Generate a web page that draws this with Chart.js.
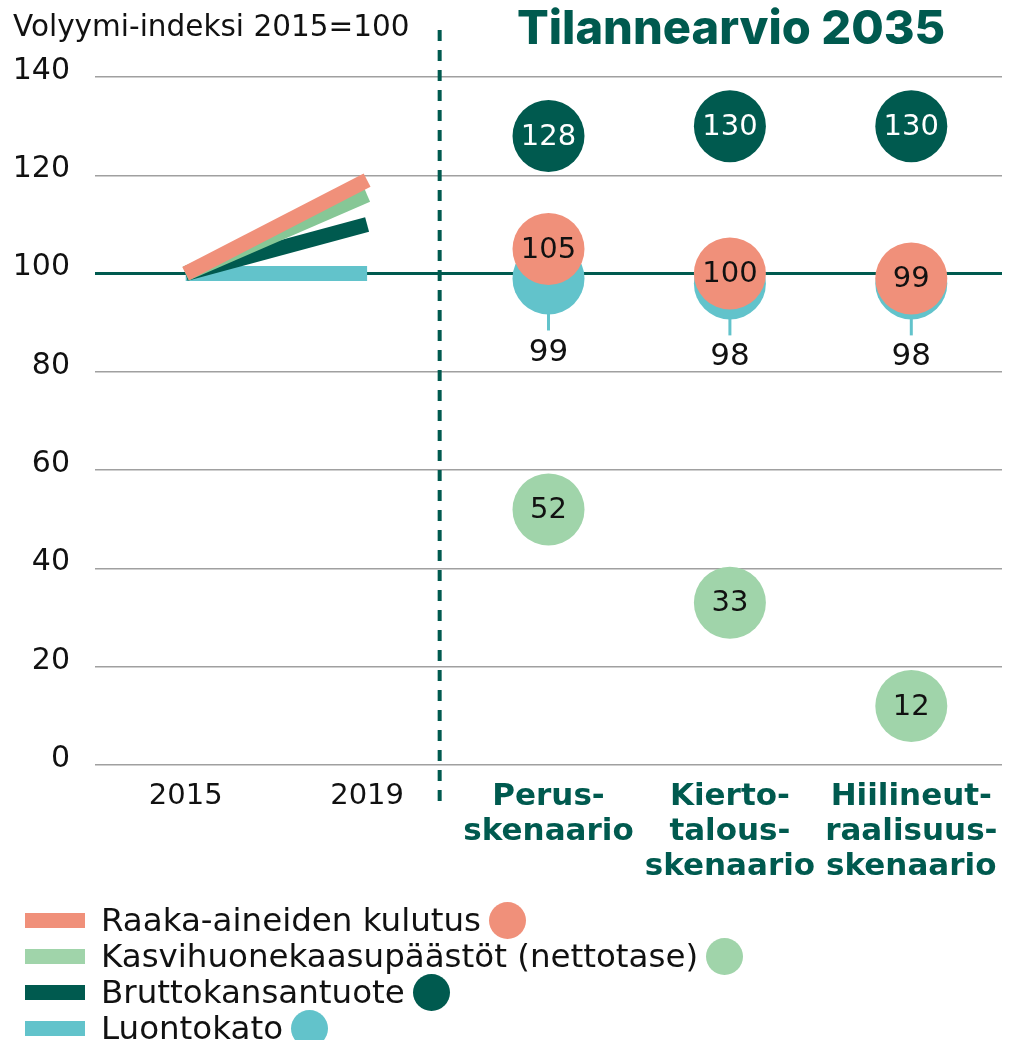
<!DOCTYPE html>
<html><head><meta charset="utf-8">
<script src="https://cdn.jsdelivr.net/npm/chart.js@4"></script>
<style>
html,body{margin:0;padding:0;background:#fff;}
#wrap{position:relative;width:1027px;height:1040px;font-family:"DejaVu Sans",sans-serif;overflow:hidden;}
canvas{position:absolute;left:0;top:0;}
.ylab{position:absolute;left:13px;top:12px;font-size:29.5px;line-height:29px;color:#111;white-space:nowrap;}
.title{position:absolute;left:517px;top:3px;font-family:Inter,sans-serif;font-size:47px;line-height:47px;font-weight:800;color:#005a4f;white-space:nowrap;}
.leg{position:absolute;left:25px;display:flex;align-items:center;font-size:32.5px;line-height:36px;color:#111;white-space:nowrap;height:36px;}
.leg .sw{width:60px;height:15px;margin-right:16px;flex:none;}
.leg .dot{width:37px;height:37px;border-radius:50%;margin-left:8px;flex:none;}
</style></head>
<body><div id="wrap">
<canvas id="c" width="1027" height="1040"></canvas>
<div class="ylab">Volyymi-indeksi 2015=100</div>
<div class="title">Tilannearvio 2035</div>
<div id="legend"></div>
</div>
<script>
const categories = ['2015', '2019', ['Perus-', 'skenaario'], ['Kierto-', 'talous-', 'skenaario'], ['Hiilineut-', 'raalisuus-', 'skenaario']];
const seriesNames = ['Raaka-aineiden kulutus', 'Kasvihuonekaasupäästöt (nettotase)', 'Bruttokansantuote', 'Luontokato'];
const raakaTrend = [100, 119];
const kasviTrend = [100, 116];
const bktTrend = [100, 110];
const luontoTrend = [100, 100];
const raaka2035 = [105, 100, 99];
const kasvi2035 = [52, 33, 12];
const bkt2035 = [128, 130, 130];
const luonto2035 = [99, 98, 98];
const yTicks = [0, 20, 40, 60, 80, 100, 120, 140];

const C_RAAKA = '#f0907a', C_KASVI = '#a0d4aa', C_KASVI_LINE = '#86c796', C_BKT = '#005a4f', C_LUONTO = '#62c3cb';
const FONT = '"DejaVu Sans", sans-serif';

const trend = a => [...a, null, null, null];
const future = a => [null, null, ...a];

function lineDs(label, data, color) {
  return {type: 'line', label, data: trend(data), borderColor: color, backgroundColor: color, borderWidth: 15,
    borderCapStyle: 'butt', pointRadius: 0, fill: false, spanGaps: false, tension: 0};
}
function dotDs(label, data, color, txt) {
  return {type: 'line', label, data: future(data), showLine: false, pointRadius: 36, pointHoverRadius: 36,
    pointBackgroundColor: color, pointBorderWidth: 0, borderColor: color, backgroundColor: color, txt, clip: false};
}

const datasets = [
  dotDs(seriesNames[0], raaka2035, C_RAAKA, '#111'),
  dotDs(seriesNames[3], luonto2035, C_LUONTO, null),
  dotDs(seriesNames[2], bkt2035, C_BKT, '#fff'),
  dotDs(seriesNames[1], kasvi2035, C_KASVI, '#111'),
  lineDs(seriesNames[0], raakaTrend, C_RAAKA),
  lineDs(seriesNames[1], kasviTrend, C_KASVI_LINE),
  lineDs(seriesNames[2], bktTrend, C_BKT),
  lineDs(seriesNames[3], luontoTrend, C_LUONTO)
];

const extras = {
  id: 'extras',
  beforeDatasetsDraw(chart) {
    const ctx = chart.ctx, x = chart.scales.x.getPixelForValue(1.4);
    ctx.save();
    ctx.strokeStyle = C_BKT; ctx.lineWidth = 4; ctx.setLineDash([11, 9]);
    ctx.beginPath(); ctx.moveTo(x, 30); ctx.lineTo(x, 802); ctx.stroke();
    ctx.restore();
  },
  afterDatasetsDraw(chart) {
    const ctx = chart.ctx;
    ctx.save();
    ctx.textAlign = 'center'; ctx.textBaseline = 'middle';
    chart.data.datasets.forEach((ds, i) => {
      if (ds.showLine !== false) return;
      const meta = chart.getDatasetMeta(i);
      meta.data.forEach((pt, j) => {
        const v = ds.data[j];
        if (v === null || v === undefined) return;
        if (ds.txt) {
          ctx.font = '29px ' + FONT;
          ctx.fillStyle = ds.txt; ctx.fillText(String(v), pt.x, pt.y + 1);
        } else {
          const r = ds.pointRadius;
          ctx.strokeStyle = C_LUONTO; ctx.lineWidth = 3; ctx.setLineDash([]);
          ctx.beginPath(); ctx.moveTo(pt.x, pt.y + r - 2); ctx.lineTo(pt.x, pt.y + r + 16); ctx.stroke();
          ctx.font = '31px ' + FONT;
          ctx.fillStyle = '#111'; ctx.fillText(String(v), pt.x, pt.y + r + 38);
        }
      });
    });
    ctx.restore();
  }
};

new Chart(document.getElementById('c'), {
  data: {labels: categories, datasets},
  plugins: [extras],
  options: {
    responsive: false, animation: false, devicePixelRatio: 1,
    layout: {autoPadding: false, padding: {top: 77, right: 25, left: 0, bottom: 0}},
    plugins: {legend: {display: false}, tooltip: {enabled: false}},
    elements: {point: {hitRadius: 0}},
    scales: {
      x: {
        type: 'category', offset: true,
        grid: {display: false, drawTicks: false}, border: {display: false},
        afterFit(s) { s.height = 275; s.paddingLeft = 0; s.paddingRight = 0; },
        ticks: {
          autoSkip: false, maxRotation: 0, padding: 14,
          color: c => c.index < 2 ? '#111' : '#005a4f',
          font: c => c.index < 2 ? {family: FONT, size: 29, weight: '400', lineHeight: '35px'} : {family: FONT, size: 31, weight: '700', lineHeight: '35px'}
        }
      },
      y: {
        min: 0, max: 140,
        afterFit(s) { s.width = 95; },
        afterBuildTicks(s) { s.ticks = yTicks.map(v => ({value: v})); },
        grid: {
          drawTicks: false,
          color: c => c.tick && c.tick.value === 100 ? '#005a4f' : '#a0a0a0',
          lineWidth: c => c.tick && c.tick.value === 100 ? 3 : 1.5
        },
        border: {display: false},
        ticks: {color: '#111', padding: 25, labelOffset: -6, font: {family: FONT, size: 30}}
      }
    }
  }
});

const legendColors = [C_RAAKA, C_KASVI, C_BKT, C_LUONTO];
const legendTops = [902, 938, 974, 1010];
const lg = document.getElementById('legend');
seriesNames.forEach((n, i) => {
  const d = document.createElement('div');
  d.className = 'leg'; d.style.top = legendTops[i] + 'px';
  d.innerHTML = '<span class="sw" style="background:' + legendColors[i] + '"></span><span>' + n + '</span><span class="dot" style="background:' + legendColors[i] + '"></span>';
  lg.appendChild(d);
});
</script>
</body></html>
